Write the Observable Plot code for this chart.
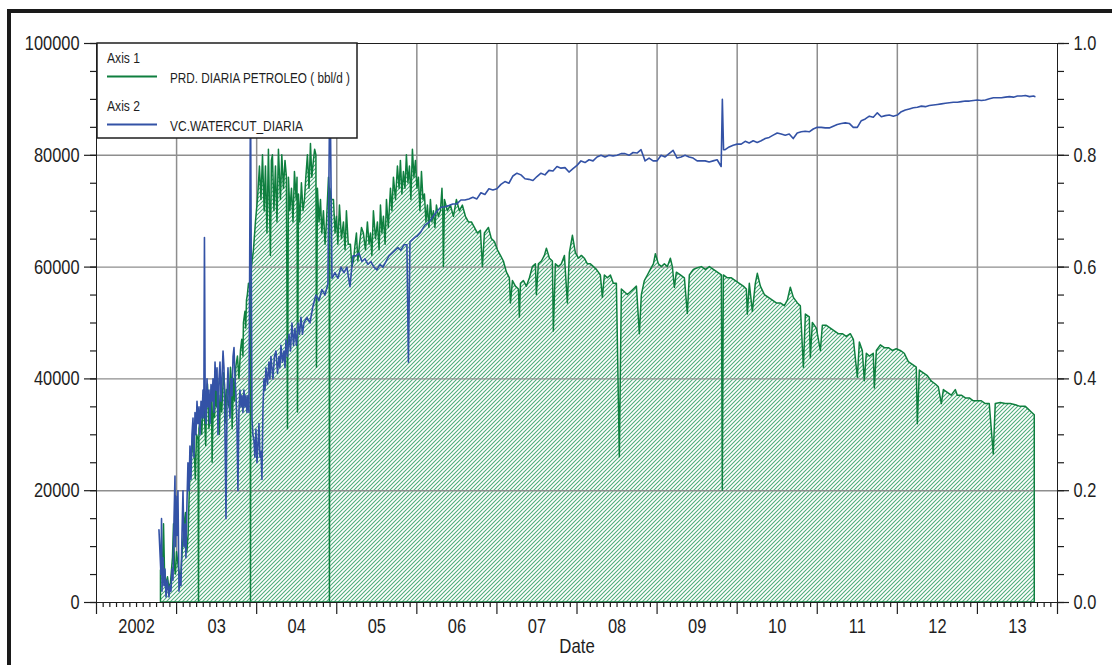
<!DOCTYPE html>
<html><head><meta charset="utf-8">
<script src="https://cdn.jsdelivr.net/npm/d3@7"></script>
<script src="https://cdn.jsdelivr.net/npm/@observablehq/plot@0.6"></script>
<style>
html,body{margin:0;padding:0;background:#fff;}
#chart{position:relative;width:1112px;height:665px;overflow:hidden;}
</style></head><body><div id="chart"></div>
<script>
// PRD. DIARIA PETROLEO (bbl/d) : [decimal year, value]
const oil = [
[2002.805,5700],[2002.830,6500],[2002.843,14000],[2002.855,6000],[2002.875,3000],[2002.893,4500],[2002.910,2500],[2002.930,3500],[2002.955,8000],[2002.968,14000],[2002.980,6000],[2002.992,5000],[2003.005,9000],[2003.030,6000],[2003.055,4000],[2003.080,10000],[2003.100,14000],[2003.117,16000],[2003.135,9000],[2003.150,12000],[2003.165,20000],[2003.180,25000],[2003.200,27000],[2003.217,31000],[2003.240,22000],[2003.255,30000],[2003.275,29000],[2003.280,0],[2003.285,31000],[2003.305,33000],[2003.320,30000],[2003.342,37000],[2003.355,33000],[2003.370,28000],[2003.380,36000],[2003.392,39000],[2003.410,31000],[2003.429,34000],[2003.440,38000],[2003.450,25000],[2003.467,38000],[2003.480,33000],[2003.495,39000],[2003.505,35000],[2003.517,40000],[2003.530,38000],[2003.540,30000],[2003.554,37000],[2003.570,34000],[2003.592,41000],[2003.605,39000],[2003.620,32000],[2003.630,38000],[2003.642,36000],[2003.660,35000],[2003.679,42000],[2003.690,40000],[2003.700,31000],[2003.717,40000],[2003.730,36000],[2003.745,42000],[2003.766,44000],[2003.785,40000],[2003.804,45000],[2003.820,47000],[2003.835,44000],[2003.841,50000],[2003.860,52000],[2003.870,49000],[2003.879,54000],[2003.890,55000],[2003.904,57000],[2003.925,56000],[2003.929,0],[2003.933,58000],[2003.941,60000],[2003.966,63000],[2003.991,68000],
[2004.016,72000],[2004.041,78000],[2004.060,72000],[2004.079,80000],[2004.100,70000],[2004.116,78000],[2004.135,66000],[2004.153,81000],[2004.178,62000],[2004.190,79000],[2004.203,80000],[2004.222,70000],[2004.241,78000],[2004.260,68000],[2004.278,81000],[2004.303,72000],[2004.320,80000],[2004.341,74000],[2004.360,79000],[2004.378,76000],[2004.391,31000],[2004.403,76000],[2004.420,70000],[2004.441,74000],[2004.460,68000],[2004.478,77000],[2004.500,72000],[2004.510,76000],[2004.516,34000],[2004.528,73000],[2004.545,68000],[2004.565,75000],[2004.585,70000],[2004.603,72000],[2004.620,76000],[2004.640,80000],[2004.660,74000],[2004.678,82000],[2004.695,76000],[2004.715,79000],[2004.730,81000],[2004.746,80000],[2004.753,42000],[2004.765,74000],[2004.785,68000],[2004.803,72000],[2004.820,66000],[2004.840,70000],[2004.860,64000],[2004.878,68000],[2004.903,76000],[2004.912,74000],[2004.915,0],[2004.920,74000],[2004.940,72000],[2004.965,72000],[2004.985,66000],
[2005.002,69000],[2005.020,64000],[2005.040,71000],[2005.065,65000],[2005.090,68000],[2005.110,63000],[2005.127,70000],[2005.150,64000],[2005.177,64000],[2005.195,60000],[2005.215,61000],[2005.235,64000],[2005.252,66000],[2005.270,61000],[2005.290,64000],[2005.315,67000],[2005.339,66000],[2005.365,63000],[2005.389,68000],[2005.410,64000],[2005.427,66000],[2005.445,62000],[2005.464,70000],[2005.490,65000],[2005.514,68000],[2005.535,63000],[2005.552,71000],[2005.570,66000],[2005.589,69000],[2005.610,64000],[2005.627,72000],[2005.650,67000],[2005.677,74000],[2005.695,70000],[2005.714,76000],[2005.740,72000],[2005.764,78000],[2005.785,74000],[2005.801,79000],[2005.820,73000],[2005.839,77000],[2005.858,74000],[2005.876,80000],[2005.895,75000],[2005.914,78000],[2005.932,72000],[2005.951,81000],[2005.970,76000],[2005.989,79000],
[2006.008,74000],[2006.026,76000],[2006.045,70000],[2006.064,77000],[2006.083,72000],[2006.101,73000],[2006.120,68000],[2006.138,71000],[2006.157,67000],[2006.176,72000],[2006.195,68000],[2006.213,70000],[2006.232,67000],[2006.251,71000],[2006.275,69000],[2006.301,70000],[2006.320,74000],[2006.330,70000],[2006.338,60000],[2006.351,72000],[2006.388,70000],[2006.426,71000],[2006.463,69000],[2006.500,72000],[2006.538,70000],[2006.575,71000],[2006.613,69000],[2006.650,68000],[2006.688,68000],[2006.725,67000],[2006.763,66000],[2006.800,66500],[2006.825,60000],[2006.850,66000],[2006.900,67000],[2006.937,65000],[2006.975,64500],
[2007.012,63000],[2007.050,62000],[2007.087,61000],[2007.125,59000],[2007.162,58000],[2007.175,53500],[2007.200,57500],[2007.237,56500],[2007.275,56000],[2007.287,51000],[2007.300,57000],[2007.337,57500],[2007.374,56500],[2007.412,58000],[2007.449,60000],[2007.487,60500],[2007.499,55000],[2007.524,60500],[2007.562,61000],[2007.599,62000],[2007.624,63300],[2007.662,61500],[2007.699,61000],[2007.711,48500],[2007.736,60500],[2007.774,60000],[2007.811,60500],[2007.849,62000],[2007.886,53500],[2007.911,62500],[2007.949,65600],[2007.986,62500],
[2008.024,61500],[2008.061,62000],[2008.098,61500],[2008.136,60500],[2008.173,60500],[2008.211,60000],[2008.248,59500],[2008.298,58500],[2008.323,54500],[2008.348,58500],[2008.386,58000],[2008.423,58500],[2008.460,57000],[2008.498,57000],[2008.535,26000],[2008.560,56000],[2008.598,55500],[2008.635,55000],[2008.673,55500],[2008.710,56000],[2008.748,56500],[2008.785,48000],[2008.810,55000],[2008.847,57500],[2008.885,58500],[2008.922,59500],[2008.960,60500],[2008.985,62300],
[2009.022,60500],[2009.060,60000],[2009.097,60500],[2009.135,60000],[2009.172,61500],[2009.197,60000],[2009.222,56300],[2009.247,59000],[2009.297,58500],[2009.347,58000],[2009.384,51600],[2009.409,58500],[2009.459,59500],[2009.509,59800],[2009.559,60000],[2009.609,59500],[2009.659,60000],[2009.709,59500],[2009.759,59000],[2009.809,58500],[2009.821,20000],[2009.834,58500],[2009.884,58000],[2009.934,58000],[2009.983,57500],
[2010.033,57000],[2010.083,56500],[2010.121,56000],[2010.133,51500],[2010.158,57000],[2010.196,52000],[2010.233,57000],[2010.258,58800],[2010.296,56500],[2010.346,55000],[2010.396,54500],[2010.446,54000],[2010.495,53500],[2010.545,53500],[2010.595,53000],[2010.633,54000],[2010.670,56300],[2010.708,54500],[2010.758,53500],[2010.795,53000],[2010.833,42000],[2010.858,51500],[2010.907,51000],[2010.920,43700],[2010.945,50000],[2010.995,49000],
[2011.045,45000],[2011.070,49500],[2011.120,49500],[2011.170,49000],[2011.219,48500],[2011.269,48000],[2011.319,48000],[2011.369,47500],[2011.419,48000],[2011.457,47000],[2011.507,40200],[2011.532,46500],[2011.569,45000],[2011.594,39600],[2011.619,44500],[2011.656,44000],[2011.706,44500],[2011.719,38300],[2011.744,45000],[2011.794,46000],[2011.844,45500],[2011.894,45500],[2011.944,45000],[2011.993,45300],
[2012.043,45000],[2012.093,44500],[2012.143,43000],[2012.193,42500],[2012.243,42000],[2012.256,31900],[2012.281,41500],[2012.331,41000],[2012.381,40500],[2012.431,39500],[2012.481,39000],[2012.518,38500],[2012.556,35500],[2012.581,38000],[2012.630,37500],[2012.680,37000],[2012.730,38000],[2012.755,37000],[2012.805,37000],[2012.855,36500],[2012.905,36500],[2012.955,36000],
[2013.005,36000],[2013.055,36000],[2013.104,35500],[2013.154,35500],[2013.204,26500],[2013.229,35500],[2013.292,35700],[2013.354,35500],[2013.417,35500],[2013.479,35300],[2013.541,35000],[2013.604,35000],[2013.641,34500],[2013.679,34000],[2013.716,33500]
];

// VC.WATERCUT_DIARIA (fraction) : [decimal year, value]
const watercut = [
[2002.780,0.13],[2002.805,0.05],[2002.812,0.15],[2002.818,0.02],[2002.830,0.08],[2002.843,0.03],[2002.855,0.06],[2002.868,0.01],[2002.885,0.04],[2002.905,0.01],[2002.918,0.03],[2002.930,0.02],[2002.943,0.06],[2002.955,0.04],[2002.968,0.15],[2002.980,0.226],[2002.986,0.10],[2002.992,0.19],[2003.005,0.12],[2003.017,0.20],[2003.030,0.02],[2003.042,0.05],[2003.055,0.03],[2003.067,0.12],[2003.080,0.20],[2003.092,0.10],[2003.105,0.14],[2003.117,0.08],[2003.130,0.18],[2003.142,0.25],[2003.155,0.20],[2003.167,0.28],[2003.180,0.22],[2003.192,0.30],[2003.205,0.33],[2003.217,0.26],[2003.230,0.34],[2003.242,0.30],[2003.255,0.36],[2003.267,0.32],[2003.280,0.35],[2003.292,0.30],[2003.305,0.36],[2003.317,0.33],[2003.330,0.38],[2003.340,0.33],[2003.348,0.653],[2003.357,0.36],[2003.367,0.32],[2003.380,0.40],[2003.392,0.35],[2003.405,0.38],[2003.417,0.32],[2003.430,0.39],[2003.442,0.36],[2003.455,0.40],[2003.467,0.34],[2003.480,0.43],[2003.492,0.38],[2003.505,0.42],[2003.517,0.30],[2003.530,0.40],[2003.542,0.43],[2003.555,0.36],[2003.567,0.40],[2003.580,0.45],[2003.592,0.42],[2003.605,0.30],[2003.617,0.15],[2003.630,0.37],[2003.642,0.42],[2003.655,0.36],[2003.667,0.33],[2003.680,0.40],[2003.692,0.37],[2003.705,0.44],[2003.717,0.456],[2003.730,0.40],[2003.742,0.37],[2003.754,0.32],[2003.766,0.20],[2003.778,0.34],[2003.791,0.38],[2003.804,0.35],[2003.816,0.37],[2003.829,0.34],[2003.841,0.38],[2003.854,0.35],[2003.866,0.37],[2003.879,0.34],[2003.891,0.37],[2003.904,0.34],[2003.923,0.92],[2003.941,0.33],[2003.953,0.30],[2003.966,0.29],[2003.978,0.26],[2003.991,0.31],
[2004.004,0.25],[2004.016,0.28],[2004.029,0.32],[2004.041,0.26],[2004.054,0.27],[2004.066,0.22],[2004.079,0.35],[2004.091,0.40],[2004.104,0.38],[2004.116,0.42],[2004.135,0.39],[2004.153,0.43],[2004.165,0.40],[2004.178,0.44],[2004.190,0.42],[2004.203,0.40],[2004.222,0.44],[2004.241,0.45],[2004.260,0.41],[2004.278,0.44],[2004.290,0.42],[2004.303,0.46],[2004.322,0.43],[2004.341,0.45],[2004.354,0.42],[2004.366,0.47],[2004.385,0.44],[2004.403,0.48],[2004.422,0.45],[2004.441,0.50],[2004.460,0.46],[2004.478,0.49],[2004.497,0.46],[2004.516,0.50],[2004.535,0.48],[2004.553,0.51],[2004.572,0.48],[2004.590,0.50],[2004.628,0.51],[2004.665,0.50],[2004.703,0.53],[2004.740,0.55],[2004.778,0.54],[2004.815,0.56],[2004.853,0.55],[2004.890,0.57],[2004.915,0.95],[2004.940,0.58],[2004.977,0.59],
[2005.015,0.58],[2005.052,0.60],[2005.090,0.59],[2005.127,0.60],[2005.165,0.565],[2005.202,0.62],[2005.240,0.62],[2005.277,0.625],[2005.315,0.61],[2005.352,0.615],[2005.389,0.605],[2005.427,0.61],[2005.464,0.60],[2005.502,0.595],[2005.539,0.605],[2005.577,0.60],[2005.614,0.61],[2005.652,0.62],[2005.689,0.625],[2005.726,0.63],[2005.764,0.635],[2005.801,0.63],[2005.839,0.64],[2005.876,0.64],[2005.895,0.43],[2005.914,0.645],[2005.951,0.65],[2005.989,0.655],
[2006.00,0.655],[2006.05,0.663],[2006.10,0.675],[2006.15,0.68],[2006.20,0.69],[2006.25,0.70],[2006.30,0.707],[2006.35,0.708],[2006.40,0.71],[2006.45,0.713],[2006.50,0.713],[2006.55,0.72],[2006.60,0.72],[2006.65,0.722],[2006.70,0.725],[2006.75,0.722],[2006.80,0.733],[2006.85,0.73],[2006.90,0.74],[2006.95,0.738],
[2007.00,0.74],[2007.05,0.748],[2007.10,0.753],[2007.15,0.75],[2007.20,0.763],[2007.25,0.768],[2007.30,0.765],[2007.35,0.758],[2007.40,0.757],[2007.45,0.755],[2007.50,0.762],[2007.55,0.768],[2007.60,0.765],[2007.65,0.773],[2007.70,0.772],[2007.75,0.78],[2007.80,0.777],[2007.85,0.778],[2007.90,0.77],[2007.95,0.776],
[2008.00,0.782],[2008.05,0.79],[2008.10,0.787],[2008.15,0.792],[2008.20,0.79],[2008.25,0.797],[2008.30,0.80],[2008.35,0.797],[2008.40,0.80],[2008.45,0.799],[2008.50,0.80],[2008.55,0.803],[2008.60,0.803],[2008.65,0.80],[2008.70,0.805],[2008.75,0.804],[2008.80,0.81],[2008.85,0.79],[2008.90,0.795],[2008.95,0.79],
[2009.00,0.79],[2009.05,0.80],[2009.10,0.797],[2009.15,0.803],[2009.20,0.809],[2009.25,0.795],[2009.30,0.797],[2009.35,0.80],[2009.40,0.797],[2009.45,0.795],[2009.50,0.79],[2009.55,0.79],[2009.60,0.79],[2009.65,0.788],[2009.70,0.79],[2009.75,0.792],[2009.80,0.78],[2009.815,0.90],[2009.83,0.81],[2009.85,0.81],[2009.90,0.815],[2009.95,0.818],
[2010.00,0.82],[2010.05,0.82],[2010.10,0.825],[2010.15,0.822],[2010.20,0.826],[2010.25,0.823],[2010.30,0.826],[2010.35,0.83],[2010.40,0.832],[2010.45,0.836],[2010.50,0.84],[2010.55,0.838],[2010.60,0.836],[2010.65,0.838],[2010.70,0.83],[2010.75,0.84],[2010.80,0.842],[2010.85,0.843],[2010.90,0.842],[2010.95,0.847],
[2011.00,0.85],[2011.05,0.85],[2011.10,0.849],[2011.15,0.849],[2011.20,0.852],[2011.25,0.855],[2011.30,0.857],[2011.35,0.858],[2011.40,0.857],[2011.45,0.85],[2011.50,0.85],[2011.55,0.862],[2011.60,0.865],[2011.65,0.87],[2011.70,0.868],[2011.75,0.876],[2011.80,0.869],[2011.85,0.871],[2011.90,0.872],[2011.95,0.87],
[2012.00,0.872],[2012.05,0.878],[2012.10,0.881],[2012.15,0.883],[2012.20,0.885],[2012.25,0.886],[2012.30,0.888],[2012.35,0.887],[2012.40,0.889],[2012.45,0.89],[2012.50,0.891],[2012.55,0.892],[2012.60,0.893],[2012.65,0.894],[2012.70,0.895],[2012.75,0.895],[2012.80,0.896],[2012.85,0.897],[2012.90,0.897],[2012.95,0.898],
[2013.00,0.899],[2013.05,0.898],[2013.10,0.899],[2013.15,0.901],[2013.20,0.903],[2013.25,0.903],[2013.30,0.903],[2013.35,0.904],[2013.40,0.905],[2013.45,0.904],[2013.50,0.906],[2013.55,0.906],[2013.60,0.907],[2013.65,0.905],[2013.70,0.906],[2013.716,0.905]
];

const yearBounds = [2002,2003,2004,2005,2006,2007,2008,2009,2010,2011,2012,2013,2014];
const yearLabels = ["2002","03","04","05","06","07","08","09","10","11","12","13"];
const leftTicks = [0,20000,40000,60000,80000,100000];
const rightTicks = [0.0,0.2,0.4,0.6,0.8,1.0];
const legendTitles = ["Axis 1","Axis 2"];
const seriesNames = ["PRD. DIARIA PETROLEO ( bbl/d )","VC.WATERCUT_DIARIA"];
const xTitle = "Date";

const GREEN = "#0f7f3f", BLUE = "#3352a6", GRID = "#8e8e8e", INK = "#1e1e1e";
const WC = 100000; // right axis 1.0 == left axis 100000
const FONT = "'Liberation Sans',Arial,sans-serif";

const monthTicks = [];
for (let y = 2002; y < 2014; y++) for (let m = 1; m < 12; m++) monthTicks.push(y + m / 12);
const minorLeft = d3.range(0, 100001, 5000);

const svg = Plot.plot({
  width: 1112, height: 665,
  marginLeft: 96, marginRight: 55, marginTop: 43, marginBottom: 63,
  style: {fontFamily: FONT, fontSize: "20.5px", color: INK, background: "white", overflow: "visible"},
  x: {domain: [2002, 2014], axis: null},
  y: {domain: [0, 100000], axis: null},
  marks: [
    Plot.ruleX(yearBounds.slice(1, -1), {stroke: GRID, strokeWidth: 1.5}),
    Plot.areaY(oil, {x: d => d[0], y: d => d[1], fill: "url(#hatch)"}),
    Plot.ruleY(leftTicks.slice(1, -1), {stroke: GRID, strokeWidth: 1.4}),
    Plot.areaY(oil, {x: d => d[0], y: d => d[1], fill: "none", stroke: GREEN, strokeWidth: 1.5}),
    Plot.lineY(watercut, {x: d => d[0], y: d => d[1] * WC, stroke: BLUE, strokeWidth: 1.6}),
    Plot.frame({stroke: INK, strokeWidth: 1}),
    Plot.axisY(minorLeft, {anchor: "left", tickSize: 6, tickFormat: () => "", strokeWidth: 1.2}),
    Plot.axisY(leftTicks, {anchor: "left", tickSize: 12, tickPadding: 5, tickFormat: d3.format("d"), strokeWidth: 1.2, fontSize: 20.5}),
    Plot.axisY(minorLeft, {anchor: "right", tickSize: 6, tickFormat: () => "", strokeWidth: 1.2}),
    Plot.axisY(rightTicks.map(d => d * WC), {anchor: "right", tickSize: 11, tickPadding: 5, tickFormat: d => (d / WC).toFixed(1), strokeWidth: 1.2, fontSize: 20.5}),
    Plot.axisX(monthTicks, {anchor: "bottom", tickSize: 5, tickFormat: () => "", strokeWidth: 1.2}),
    Plot.axisX(yearBounds, {anchor: "bottom", tickSize: 12, tickFormat: () => "", strokeWidth: 1.2}),
    Plot.text(yearLabels, {x: (d, i) => 2002.5 + i, frameAnchor: "bottom", dy: 30, fontSize: 20.5, fill: INK}),
    Plot.text([xTitle], {frameAnchor: "bottom", dy: 50, fontSize: 21, fill: INK})
  ]
});
document.getElementById("chart").appendChild(svg);

const s = d3.select(svg);
// narrow the text like the original's condensed face
s.selectAll("text").each(function () {
  const w = this.getComputedTextLength();
  if (w > 0) {
    this.setAttribute("textLength", (w * 0.8).toFixed(1));
    this.setAttribute("lengthAdjust", "spacingAndGlyphs");
  }
});

s.insert("defs", ":first-child").html(
  `<pattern id="hatch" patternUnits="userSpaceOnUse" width="4" height="4">
     <rect width="4" height="4" fill="white"/>
     <path d="M-1,1 L1,-1 M0,4 L4,0 M3,5 L5,3" stroke="#4cab79" stroke-width="1.05"/>
   </pattern>`);

// legend box (top-left, over the plot)
const lg = s.append("g").attr("font-family", FONT).attr("fill", INK).attr("text-anchor", "start");
lg.append("rect").attr("x", 97).attr("y", 43).attr("width", 260).attr("height", 95)
  .attr("fill", "white").attr("stroke", INK).attr("stroke-width", 1.5);
const rows = [{t: 62.5, ly: 76.5, ty: 83, c: GREEN, w: 180}, {t: 110.5, ly: 124.5, ty: 130.5, c: BLUE, w: 133}];
rows.forEach((r, i) => {
  lg.append("text").attr("x", 107).attr("y", r.t).attr("font-size", 14)
    .attr("textLength", 33).attr("lengthAdjust", "spacingAndGlyphs").text(legendTitles[i]);
  lg.append("line").attr("x1", 107).attr("x2", 157).attr("y1", r.ly).attr("y2", r.ly)
    .attr("stroke", r.c).attr("stroke-width", 2);
  lg.append("text").attr("x", 170).attr("y", r.ty).attr("font-size", 15.5)
    .attr("textLength", r.w).attr("lengthAdjust", "spacingAndGlyphs").text(seriesNames[i]);
});

// outer thick border (top and left visible)
s.append("rect").attr("x", 7).attr("y", 9).attr("width", 1112).attr("height", 4).attr("fill", "#1a1a1a");
s.append("rect").attr("x", 7).attr("y", 9).attr("width", 4).attr("height", 700).attr("fill", "#1a1a1a");
</script></body></html>
